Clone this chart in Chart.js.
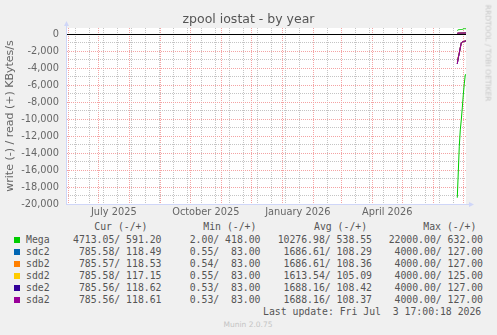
<!DOCTYPE html>
<html>
<head>
<meta charset="utf-8">
<title>zpool iostat - by year</title>
<script src="https://cdn.jsdelivr.net/npm/chart.js@4.4.1/dist/chart.umd.min.js"></script>
<style>
  html, body { margin: 0; padding: 0; background: #f0f0f0; }
  #wrap { position: relative; width: 497px; height: 335px; background: #f0f0f0; overflow: hidden; }
  #zpoolChart { position: absolute; left: 0; top: 0; }
  .lg { position: absolute; font-family: "DejaVu Sans Mono", monospace; font-size: 9.8px; color: #555; white-space: pre; line-height: 12px; }
  .sw { position: absolute; width: 6px; height: 6px; }
  #rrdtool { position: absolute; left: 488px; top: 53px; transform: translate(-50%, -50%) rotate(90deg);
             font-family: "DejaVu Sans", sans-serif; font-size: 7.5px; color: #c8c8c8; white-space: nowrap; }
  #munin { position: absolute; left: 248px; top: 324px; transform: translate(-50%, -50%);
           font-family: "DejaVu Sans", sans-serif; font-size: 7.5px; color: #c4c4c4; white-space: nowrap; }
</style>
</head>
<body>
<div id="wrap">
  <canvas id="zpoolChart" width="497" height="220"></canvas>
  <div id="legend"></div>
  <div id="rrdtool">RRDTOOL / TOBI OETIKER</div>
  <div id="munin">Munin 2.0.75</div>
</div>
<script>
// yearly graph: 400 days ending at the last update
const lastUpdate = '2026-07-03T17:00:18';
const rangeDays = 400;

// x axis labels, drawn in the middle of their month
const monthLabels = ['July 2025', 'October 2025', 'January 2026', 'April 2026'];
const monthLabelStarts = ['2025-07-01', '2025-10-01', '2026-01-01', '2026-04-01'];

// y axis
const yTicks = [0, -2000, -4000, -6000, -8000, -10000, -12000, -14000, -16000, -18000, -20000];
const yMinorTicks = [-1000, -3000, -5000, -7000, -9000, -11000, -13000, -15000, -17000, -19000];
const yMin = -20000;
const yMax = 710;

// series
const seriesNames = ['Mega', 'sdc2', 'sdb2', 'sdd2', 'sde2', 'sda2'];
const seriesColors = ['#00cc00', '#0066b3', '#ff8000', '#ffcc00', '#330099', '#990099'];

// daily samples, only the last days hold data
const sampleTimes = ['2026-06-25T00:00', '2026-06-26T00:00', '2026-06-27T00:00', '2026-06-28T00:00',
  '2026-06-29T00:00', '2026-06-30T00:00', '2026-07-01T00:00', '2026-07-02T00:00',
  '2026-07-03T00:00', '2026-07-03T17:00'];

const megaWrite = [-19260, -16240, -13200, -11280, -10100, -8690, -7160, -5860, -4800, -4713.05];
const megaRead  = [418, 500, 520, 530, 535, 540, 600, 632, 625, 591.20];
const sdc2Write = [-3490, -2770, -2240, -1620, -1060, -935, -900, -860, -826, -785.58];
const sdc2Read  = [83, 101, 108, 110, 112, 114, 120, 126, 127, 118.49];
const sdb2Write = [-3490, -2770, -2260, -1680, -1080, -940, -900, -860, -826, -785.57];
const sdb2Read  = [83, 101, 108, 110, 112, 115, 120, 125, 127, 118.53];
const sdd2Write = [-3300, -2650, -2150, -1550, -1040, -930, -895, -858, -824, -785.58];
const sdd2Read  = [83, 99, 104, 107, 109, 112, 118, 123, 125, 117.15];
const sde2Write = [-3500, -2780, -2250, -1600, -1050, -935, -900, -860, -825, -785.56];
const sde2Read  = [83, 102, 108, 110, 112, 114, 120, 125, 127, 118.62];
const sda2Write = [-3500, -2780, -2250, -1600, -1050, -935, -900, -860, -825, -785.56];
const sda2Read  = [83, 102, 108, 110, 112, 114, 120, 125, 127, 118.61];

// legend table
const legendHead = ['Cur (-/+)', 'Min (-/+)', 'Avg (-/+)', 'Max (-/+)'];
const legendCur = ['4713.05/ 591.20', '785.58/ 118.49', '785.57/ 118.53', '785.58/ 117.15', '785.56/ 118.62', '785.56/ 118.61'];
const legendMin = ['2.00/ 418.00', '0.55/  83.00', '0.54/  83.00', '0.55/  83.00', '0.53/  83.00', '0.53/  83.00'];
const legendAvg = ['10276.98/ 538.55', '1686.61/ 108.29', '1686.61/ 108.36', '1613.54/ 105.09', '1688.16/ 108.42', '1688.16/ 108.37'];
const legendMax = ['22000.00/ 632.00', '4000.00/ 127.00', '4000.00/ 127.00', '4000.00/ 125.00', '4000.00/ 127.00', '4000.00/ 127.00'];
const lastUpdateText = 'Last update: Fri Jul  3 17:00:18 2026';

const seriesWrite = [megaWrite, sdc2Write, sdb2Write, sdd2Write, sde2Write, sda2Write];
const seriesRead = [megaRead, sdc2Read, sdb2Read, sdd2Read, sde2Read, sda2Read];

// time helpers (x axis is in days from the start of the graph)
const DAY = 86400000;
function toMs(s) {
    const [d, t = '00:00'] = s.split('T');
    const [Y, M, D] = d.split('-').map(Number);
    const [h, m, sec = 0] = t.split(':').map(Number);
    return Date.UTC(Y, M - 1, D, h, m, sec);
}
const endMs = toMs(lastUpdate);
const startMs = endMs - rangeDays * DAY;
const msPos = ms => (ms - startMs) / DAY;

// grid: month starts in red, two week steps in gray
const monthStarts = [];
let md = new Date(startMs);
md = new Date(Date.UTC(md.getUTCFullYear(), md.getUTCMonth() + 1, 1));
while (md.getTime() <= endMs) {
    monthStarts.push(msPos(md.getTime()));
    md = new Date(Date.UTC(md.getUTCFullYear(), md.getUTCMonth() + 1, 1));
}
const weekTicks = [];
for (let t = toMs('2025-06-08'); t <= endMs; t += 14 * DAY) weekTicks.push(msPos(t));

const labelTicks = monthLabelStarts.map(s => {
    const a = toMs(s);
    const d = new Date(a);
    const b = Date.UTC(d.getUTCFullYear(), d.getUTCMonth() + 1, 1);
    return msPos((a + b) / 2);
});

const xs = sampleTimes.map(s => msPos(toMs(s)));
const datasets = [];
seriesNames.forEach((name, i) => {
    [['write', seriesWrite[i]], ['read', seriesRead[i]]].forEach(([kind, vals]) => {
        datasets.push({
            label: name + ' ' + kind,
            data: vals.map((v, k) => ({ x: xs[k], y: v })),
            borderColor: seriesColors[i],
            borderWidth: 1,
            pointRadius: 0,
            fill: false,
            tension: 0,
            order: seriesNames.length - i
        });
    });
});

const tickFont = { family: 'DejaVu Sans', size: 9.8 };
const axisColor = '#cfd6f8';
const majorGrid = '#f4a3a3';
const minorGrid = '#c4c4c4';

// white canvas behind the plot and the little rrdtool axis arrows
const plotDecor = {
    id: 'plotDecor',
    beforeDraw(chart) {
        const { ctx, chartArea: a } = chart;
        ctx.save();
        ctx.fillStyle = '#ffffff';
        ctx.fillRect(a.left, a.top, a.right - a.left, a.bottom - a.top);
        ctx.restore();
    },
    afterDraw(chart) {
        const { ctx, chartArea: a } = chart;
        const x0 = Math.round(a.left) + 0.5;
        const y0 = Math.round(a.bottom) + 0.5;
        ctx.save();
        ctx.strokeStyle = axisColor;
        ctx.fillStyle = axisColor;
        ctx.lineWidth = 1;
        ctx.beginPath();
        ctx.moveTo(x0, a.top);
        ctx.lineTo(x0, a.top - 3);
        ctx.moveTo(a.right, y0);
        ctx.lineTo(a.right + 3, y0);
        ctx.stroke();
        ctx.beginPath();
        ctx.moveTo(x0, a.top - 7);
        ctx.lineTo(x0 - 2.5, a.top - 2);
        ctx.lineTo(x0 + 2.5, a.top - 2);
        ctx.closePath();
        ctx.fill();
        ctx.beginPath();
        ctx.moveTo(a.right + 8, y0);
        ctx.lineTo(a.right + 3, y0 - 2.5);
        ctx.lineTo(a.right + 3, y0 + 2.5);
        ctx.closePath();
        ctx.fill();
        ctx.restore();
    }
};

const ctx = document.getElementById('zpoolChart').getContext('2d');
new Chart(ctx, {
    type: 'line',
    data: { datasets: datasets },
    plugins: [plotDecor],
    options: {
        responsive: false,
        animation: false,
        plugins: {
            legend: { display: false },
            tooltip: { enabled: false },
            title: {
                display: true,
                text: 'zpool iostat - by year',
                color: '#555',
                font: { family: 'DejaVu Sans', size: 12.5, weight: 'normal' },
                padding: { top: 12, bottom: 1 }
            }
        },
        scales: {
            xMinor: {
                type: 'linear', position: 'bottom', min: 0, max: rangeDays,
                afterBuildTicks: s => { s.ticks = weekTicks.map(v => ({ value: v })); },
                ticks: { display: false },
                grid: { color: minorGrid, drawTicks: false },
                border: { display: false, dash: [1, 1] },
                afterFit: s => { s.height = 0; }
            },
            xMajor: {
                type: 'linear', position: 'bottom', min: 0, max: rangeDays,
                afterBuildTicks: s => { s.ticks = monthStarts.map(v => ({ value: v })); },
                ticks: { display: false },
                grid: { color: majorGrid, drawTicks: false },
                border: { display: false, dash: [1, 1] },
                afterFit: s => { s.height = 0; }
            },
            x: {
                type: 'linear', position: 'bottom', min: 0, max: rangeDays,
                afterBuildTicks: s => { s.ticks = labelTicks.map(v => ({ value: v })); },
                ticks: {
                    font: tickFont, color: '#666', padding: 3, autoSkip: false, maxRotation: 0,
                    callback: (v, i) => monthLabels[i]
                },
                grid: { display: false, drawTicks: false },
                border: { color: axisColor },
                afterFit: s => { s.height = 16; }
            },
            yMinor: {
                type: 'linear', position: 'left', min: yMin, max: yMax,
                afterBuildTicks: s => { s.ticks = yMinorTicks.map(v => ({ value: v })); },
                ticks: { display: false },
                grid: { color: minorGrid, drawTicks: false },
                border: { display: false, dash: [1, 1] },
                afterFit: s => { s.width = 0; }
            },
            y: {
                type: 'linear', position: 'left', min: yMin, max: yMax,
                afterBuildTicks: s => { s.ticks = yTicks.map(v => ({ value: v })); },
                ticks: { font: tickFont, color: '#666', padding: 7 },
                grid: {
                    drawTicks: false,
                    color: c => (c.tick && c.tick.value === 0 ? '#000000' : majorGrid)
                },
                border: {
                    color: axisColor,
                    dash: c => (c.tick && c.tick.value === 0 ? [] : [1, 1])
                },
                title: {
                    display: true,
                    text: 'write (-) / read (+) KBytes/s',
                    color: '#666',
                    font: { family: 'DejaVu Sans', size: 11 },
                    padding: { top: 4, bottom: 0 }
                },
                afterFit: s => { s.width = 66; }
            },
            // empty strip on the right, keeps the title centred on the whole image
            yRight: {
                type: 'linear', position: 'right', min: yMin, max: yMax,
                ticks: { display: false },
                grid: { display: false, drawTicks: false },
                border: { display: false },
                afterFit: s => { s.width = 31; }
            }
        }
    }
});

// legend below the graph
const legend = document.getElementById('legend');
function addText(text, style) {
    const el = document.createElement('div');
    el.className = 'lg';
    el.textContent = text;
    Object.assign(el.style, style);
    legend.appendChild(el);
}
const headLeft = [94.3, 203.3, 314, 423.3];
const colRight = [161.5, 260.5, 372, 483];
const rowTop = i => 233.8 + i * 11.95;
legendHead.forEach((h, j) => addText(h, { left: headLeft[j] + 'px', top: '221.3px' }));
seriesNames.forEach((name, i) => {
    const sw = document.createElement('div');
    sw.className = 'sw';
    sw.style.left = '14px';
    sw.style.top = (rowTop(i) + 3) + 'px';
    sw.style.background = seriesColors[i];
    legend.appendChild(sw);
    addText(name, { left: '26px', top: rowTop(i) + 'px' });
    [legendCur, legendMin, legendAvg, legendMax].forEach((col, j) => {
        addText(col[i], { right: (497 - colRight[j]) + 'px', top: rowTop(i) + 'px' });
    });
});
addText(lastUpdateText, { left: '263px', top: rowTop(6) + 'px' });
</script>
</body>
</html>
